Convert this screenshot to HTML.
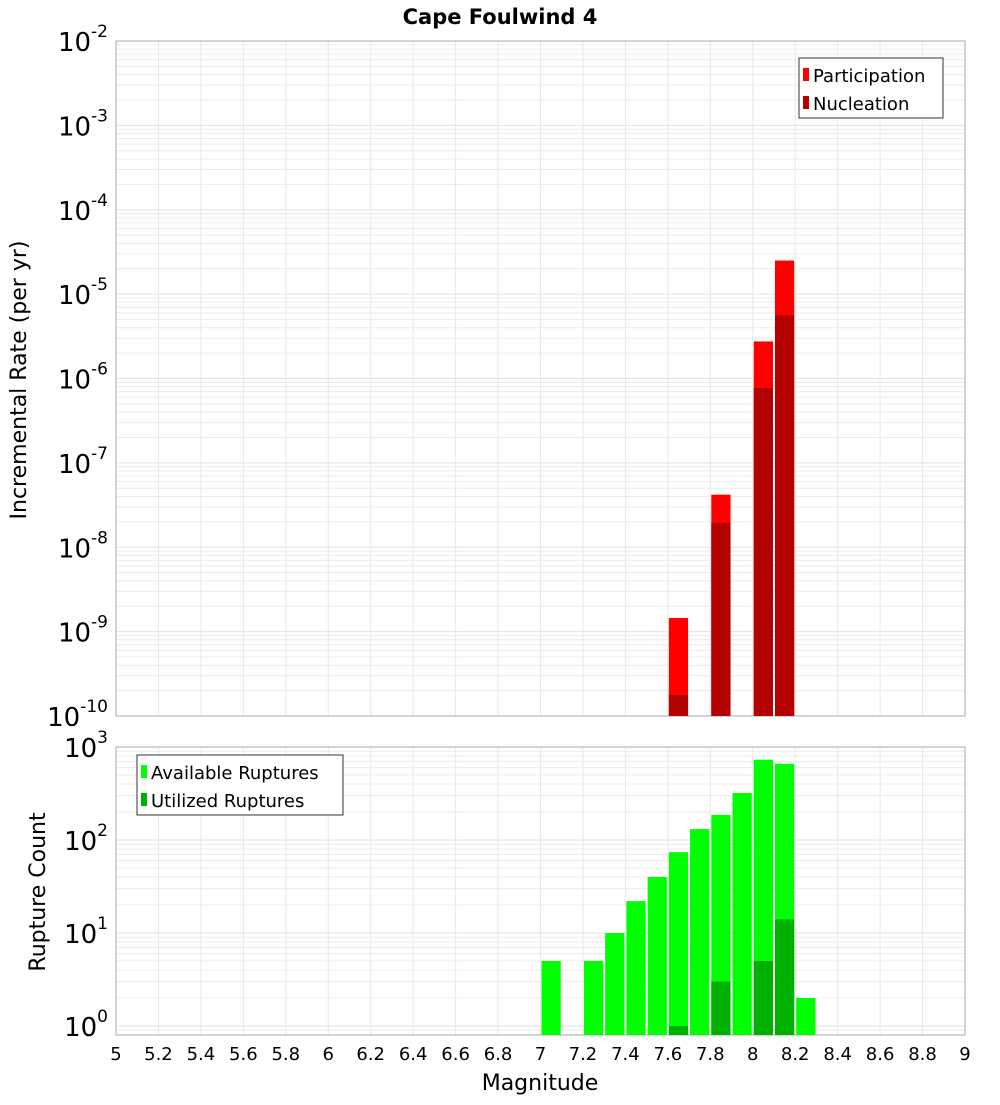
<!DOCTYPE html>
<html><head><meta charset="utf-8"><style>
body{margin:0;background:#fff}
svg text{font-family:"DejaVu Sans","Liberation Sans",sans-serif;fill:#000}
</style></head><body>
<svg id="chart" width="1000" height="1100" xmlns="http://www.w3.org/2000/svg">
<text x="500" y="24" text-anchor="middle" font-size="21" font-weight="bold">Cape Foulwind 4</text>
<g id="topPlot"></g>
<g id="botPlot"></g>
<text transform="translate(26,380) rotate(-90)" text-anchor="middle" font-size="22">Incremental Rate (per yr)</text>
<text transform="translate(45,892) rotate(-90)" text-anchor="middle" font-size="22">Rupture Count</text>
<text x="540" y="1090" text-anchor="middle" font-size="22">Magnitude</text>
</svg>
<script>
const rateMags=[7.65,7.85,8.05,8.15];
const participation=[1.45e-9,4.2e-8,2.75e-6,2.5e-5];
const nucleation=[1.77e-10,1.95e-8,7.7e-7,5.6e-6];
const availMags=[7.05,7.25,7.35,7.45,7.55,7.65,7.75,7.85,7.95,8.05,8.15,8.25];
const available=[5,5,10,22,40,74,131,186,320,730,660,2];
const utilMags=[7.65,7.85,8.05,8.15];
const utilized=[1,3,5,14];
const xTicks=["5","5.2","5.4","5.6","5.8","6","6.2","6.4","6.6","6.8","7","7.2","7.4","7.6","7.8","8","8.2","8.4","8.6","8.8","9"];
const topExps=[-10,-9,-8,-7,-6,-5,-4,-3,-2];
const botExps=[0,1,2,3];

const NS="http://www.w3.org/2000/svg";
const X0=116,X1=965;
const xs=m=>X0+(m-5)/4*(X1-X0);
function mk(p,t,a){const e=document.createElementNS(NS,t);for(const k in a)e.setAttribute(k,a[k]);p.appendChild(e);return e;}
const yTop=v=>41+(-2-Math.log10(v))*84.375;
const yBot=v=>747+(3-Math.log10(v))*93;

function frame(g,yt,yb,yf,loE,hiE,exps){
  for(let e=loE-1;e<=hiE;e++)for(let k=1;k<10;k++){const v=k*Math.pow(10,e);const y=yf(v);if(y<yt-0.5||y>yb+0.5)continue;
    const l=mk(g,'line',{x1:X0,x2:X1,y1:y,y2:y,stroke:k==1?'#e2e2e2':'#ececec','stroke-width':1});
    
    }
  xTicks.forEach(t=>{const xx=xs(+t);const l=mk(g,'line',{x1:xx,x2:xx,y1:yt,y2:yb,stroke:'#e8e8e8'});
    
    });
  const r=mk(g,'rect',{x:X0,y:yt,width:X1-X0,height:yb-yt,fill:'none',stroke:'#aaa'});
  
  
  exps.forEach(e=>{const y=yf(Math.pow(10,e));const t=mk(g,'text',{x:108,y:y+10,'text-anchor':'end','font-size':26});
    
    
    t.textContent='10';const s=mk(t,'tspan',{dy:-14,'font-size':17});s.textContent=String(e);});
}
function bars(g,mags,vals,yf,yb,fill,name){
  mags.forEach((m,i)=>{const y=yf(vals[i]);const r=mk(g,'rect',{x:xs(m-0.05)+1,y:y,width:xs(m+0.05)-xs(m-0.05)-2,height:yb-y,fill:fill});
    
    });
}
const topG=document.getElementById('topPlot'),botG=document.getElementById('botPlot');
frame(topG,41,716,yTop,-10,-2,topExps);
bars(topG,rateMags,participation,yTop,716,'#ff0000','participation-bar');
bars(topG,rateMags,nucleation,yTop,716,'#b30000','nucleation-bar');
frame(botG,747,1035,yBot,0,3,botExps);
bars(botG,availMags,available,yBot,1035,'#00ff00','available-bar');
bars(botG,utilMags,utilized,yBot,1035,'#00b000','utilized-bar');
xTicks.forEach(t=>{const e=mk(botG,'text',{x:xs(+t),y:1060,'text-anchor':'middle','font-size':18});
  
  
  e.textContent=t;});
function legend(g,lx,ly,w,items){
  const b=mk(g,'rect',{x:lx,y:ly,width:w,height:60,fill:'#fff',stroke:'#333'});
  
  
  items.forEach((it,i)=>{const yy=ly+17+i*28;
    const s=mk(g,'rect',{x:lx+4,y:yy-7,width:6,height:13,fill:it[1]});
    
    
    const t=mk(g,'text',{x:lx+14,y:yy+7,'font-size':18});
    
    
    t.textContent=it[0];});
}
legend(topG,799,58,144,[['Participation','#ff0000'],['Nucleation','#b30000']]);
legend(botG,137,755,206,[['Available Ruptures','#00ff00'],['Utilized Ruptures','#00b000']]);
</script>
</body></html>
